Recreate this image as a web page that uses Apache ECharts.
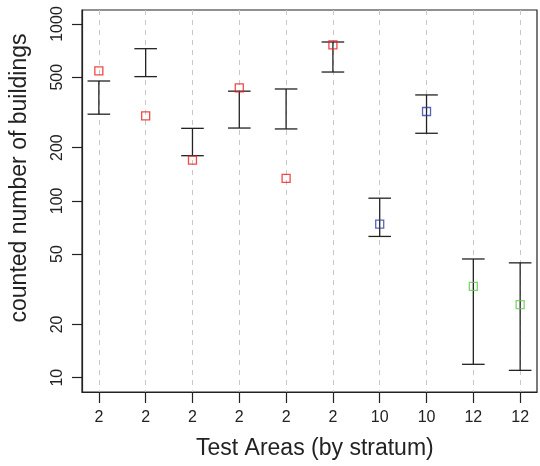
<!DOCTYPE html>
<html><head><meta charset="utf-8">
<script src="https://cdn.jsdelivr.net/npm/echarts@6/dist/echarts.min.js"></script>
<style>html,body{margin:0;padding:0;background:#fff}#c{width:540px;height:466px}</style>
</head><body><div id="c"></div>
<script>
const categories = ['2','2','2','2','2','2','10','10','12','12'];
const upper    = [476, 725, 257, 417, 429, 791, 103.5, 397, 46.9, 44.6];
const lower    = [309, 504, 180, 258, 255, 535, 62.9, 241, 11.9, 11.0];
const counted  = [543, 302, 170, 435, 134, 761, 73.8, 320, 32.8, 25.9];
const stratumColor = {'2':'#f01c1c','10':'#2b3fa6','12':'#5ccc48'};
const yTicks = [10, 20, 50, 100, 200, 500, 1000];

const L = Math.log10;
const xs = categories.map((c,i)=>i+1);
const barData = xs.map((x,i)=>[x, L(lower[i]), L(upper[i])]);
const ptData = xs.map((x,i)=>({value:[x, L(counted[i])], itemStyle:{borderColor: stratumColor[categories[i]]}}));

const chart = echarts.init(document.getElementById('c'), null, {renderer:'canvas'});
const FONT = '"Liberation Sans", Arial, Helvetica, sans-serif';
chart.setOption({
  animation:false,
  grid:{left:82, top:10, right:3, bottom:74, show:true, borderColor:'#222', borderWidth:1.2, backgroundColor:'transparent'},
  xAxis:{type:'value', min:0.64, max:10.36,
    axisLine:{show:true, lineStyle:{color:'#222', width:1.2}},
    axisTick:{show:true, length:11, lineStyle:{color:'#222', width:1.2}, customValues:xs},
    axisLabel:{customValues:xs, formatter:v=>categories[Math.round(v)-1], color:'#222', fontSize:16, fontFamily:FONT, margin:18},
    splitLine:{show:true, lineStyle:{color:'#c8c8c8', type:[5,5], width:1}}
  },
  yAxis:{type:'value', min:0.919, max:3.0791,
    axisLine:{show:true, lineStyle:{color:'#222', width:1.2}},
    axisTick:{show:true, length:10, lineStyle:{color:'#222', width:1.2}, customValues:yTicks.map(L)},
    axisLabel:{customValues:yTicks.map(L), formatter:v=>String(Math.round(Math.pow(10,v))), rotate:90, color:'#222', fontSize:16, fontFamily:FONT, margin:16},
    splitLine:{show:false}
  },
  graphic:[
    {type:'text', style:{text:'Test Areas (by stratum)', font:'23px '+FONT, fill:'#222'}, left:196, top:437},
    {type:'text', rotation:Math.PI/2, x:8, y:178, style:{text:'counted number of buildings', font:'23px '+FONT, fill:'#222', align:'center', verticalAlign:'top'}}
  ],
  series:[
    {type:'custom', data:barData, encode:{x:0, y:[1,2]},
     renderItem:(params, api)=>{
       const lo = api.coord([api.value(0), api.value(1)]);
       const hi = api.coord([api.value(0), api.value(2)]);
       const hw = 11.3;
       const st = {stroke:'#222', lineWidth:1.3};
       return {type:'group', children:[
         {type:'line', shape:{x1:lo[0], y1:lo[1], x2:hi[0], y2:hi[1]}, style:st},
         {type:'line', shape:{x1:lo[0]-hw, y1:lo[1], x2:lo[0]+hw, y2:lo[1]}, style:st},
         {type:'line', shape:{x1:hi[0]-hw, y1:hi[1], x2:hi[0]+hw, y2:hi[1]}, style:st}
       ]};
     }},
    {type:'scatter', data:ptData, symbol:'rect', symbolSize:8,
     itemStyle:{color:'rgba(0,0,0,0)', borderWidth:1.3}, z:5}
  ]
});
</script></body></html>
